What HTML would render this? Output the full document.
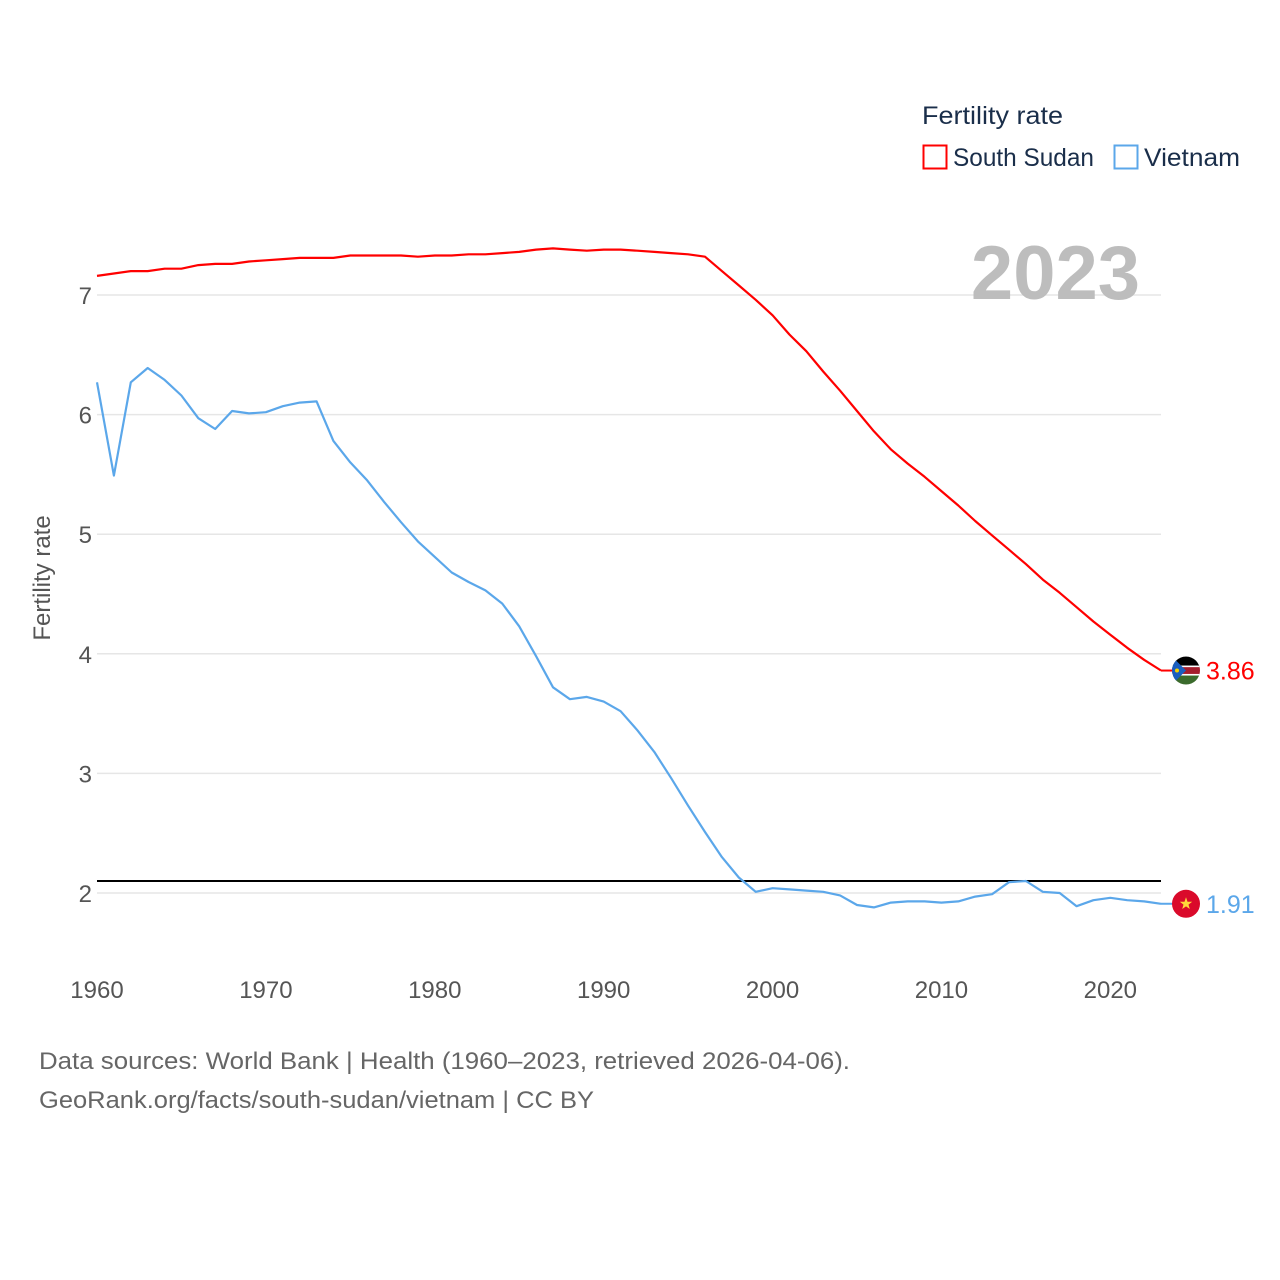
<!DOCTYPE html>
<html><head><meta charset="utf-8">
<style>
html,body{margin:0;padding:0;background:#fff;}
svg{display:block;font-family:"Liberation Sans",sans-serif;}
</style></head>
<body>
<svg id="chart" width="1280" height="1280" viewBox="0 0 1280 1280" xmlns="http://www.w3.org/2000/svg">
<g id="grid"></g>
<g id="yticks"></g>
<g id="xticks"></g>
<text transform="translate(50,578) rotate(-90)" text-anchor="middle" font-size="24" fill="#555">Fertility rate</text>
<text x="1140" y="299" text-anchor="end" font-size="76" font-weight="bold" fill="#bdbdbd">2023</text>
<line id="refline" stroke="#000" stroke-width="2"/>
<g id="series"></g>
<g>
<text x="922" y="124" font-size="25" fill="#1a2e4a" textLength="141" lengthAdjust="spacingAndGlyphs">Fertility rate</text>
<g>
<rect x="923.5" y="145.5" width="23" height="23" fill="none" stroke="#ff0000" stroke-width="2"/>
<text x="953" y="166" font-size="25" fill="#1a2e4a" textLength="141" lengthAdjust="spacingAndGlyphs">South Sudan</text></g>
<g>
<rect x="1114.5" y="145.5" width="23" height="23" fill="none" stroke="#5ba7ea" stroke-width="2"/>
<text x="1144" y="166" font-size="25" fill="#1a2e4a" textLength="96" lengthAdjust="spacingAndGlyphs">Vietnam</text></g>
</g>
<g id="ends"></g>
<text x="39" y="1069" font-size="24" fill="#666" textLength="811" lengthAdjust="spacingAndGlyphs">Data sources: World Bank | Health (1960–2023, retrieved 2026-04-06).</text>
<text x="39" y="1108" font-size="24" fill="#666" textLength="555" lengthAdjust="spacingAndGlyphs">GeoRank.org/facts/south-sudan/vietnam | CC BY</text>
</svg>
<script>
const years = [];
for (let y = 1960; y <= 2023; y++) years.push(y);
const southSudan = [7.16,7.18,7.20,7.20,7.22,7.22,7.25,7.26,7.26,7.28,7.29,7.30,7.31,7.31,7.31,7.33,7.33,7.33,7.33,7.32,7.33,7.33,7.34,7.34,7.35,7.36,7.38,7.39,7.38,7.37,7.38,7.38,7.37,7.36,7.35,7.34,7.32,7.20,7.08,6.96,6.83,6.67,6.53,6.36,6.20,6.03,5.86,5.71,5.59,5.48,5.36,5.24,5.11,4.99,4.87,4.75,4.62,4.51,4.39,4.27,4.16,4.05,3.95,3.86];
const vietnam = [6.27,5.49,6.27,6.39,6.29,6.16,5.97,5.88,6.03,6.01,6.02,6.07,6.10,6.11,5.78,5.60,5.45,5.27,5.10,4.94,4.81,4.68,4.60,4.53,4.42,4.23,3.98,3.72,3.62,3.64,3.60,3.52,3.36,3.18,2.96,2.73,2.51,2.30,2.13,2.01,2.04,2.03,2.02,2.01,1.98,1.90,1.88,1.92,1.93,1.93,1.92,1.93,1.97,1.99,2.09,2.10,2.01,2.00,1.89,1.94,1.96,1.94,1.93,1.91];
const yTicks = [2,3,4,5,6,7];
const xTicks = [1960,1970,1980,1990,2000,2010,2020];
const replacement = [2.1];
const NS='http://www.w3.org/2000/svg';
const X = yr => 97 + (yr-1960)*(1161-97)/63;
const Y = v => 295 - (v-7)*119.6;
function mk(tag, attrs, parent){const e=document.createElementNS(NS,tag);for(const k in attrs)e.setAttribute(k,attrs[k]);parent.appendChild(e);return e;}
const grid=document.getElementById('grid'), yt=document.getElementById('yticks'), xt=document.getElementById('xticks');
yTicks.forEach(t=>{
  const l=mk('line',{x1:97,x2:1161,y1:Y(t),y2:Y(t),stroke:'#e6e6e6','stroke-width':1.5},grid);
  
  
  const tx=mk('text',{x:92,y:Y(t)+9,'text-anchor':'end','font-size':24,fill:'#555'},yt);
  
  
  tx.textContent=t;
});
xTicks.forEach(t=>{
  const tx=mk('text',{x:X(t),y:998,'text-anchor':'middle','font-size':24,fill:'#555'},xt);
  
  
  tx.textContent=t;
});
const rl=document.getElementById('refline');
rl.setAttribute('x1',97);rl.setAttribute('x2',1161);rl.setAttribute('y1',Y(replacement[0]));rl.setAttribute('y2',Y(replacement[0]));
const ser=document.getElementById('series');
function line(vals,color,name){
  const d=vals.map((v,i)=>(i?'L':'M')+X(years[i]).toFixed(1)+' '+Y(v).toFixed(1)).join(' ');
  const p=mk('path',{d:d,fill:'none',stroke:color,'stroke-width':2.2,'stroke-linejoin':'round'},ser);
  
  
}
line(southSudan,'#ff0000','line-south-sudan');
line(vietnam,'#5ba7ea','line-vietnam');
const ends=document.getElementById('ends');
function endLabel(vals,color,name,flag){
  const v=vals[vals.length-1], x=X(years[years.length-1]), y=Y(v);
  const g=mk('g',{},ends);
  
  
  mk('line',{x1:x,x2:x+12,y1:y,y2:y,stroke:color,'stroke-width':2},g);
  flag(g,x+25,y);
  const t=mk('text',{x:x+45,y:y+9,'font-size':25,fill:color},g);
  t.textContent=v.toFixed(2);
}
endLabel(southSudan,'#ff0000','end-label-south-sudan',(g,cx,cy)=>{
  const cp=mk('clipPath',{id:'ssc'},g);mk('circle',{cx:cx,cy:cy,r:14},cp);
  const f=mk('g',{'clip-path':'url(#ssc)'},g);
  
  
  mk('rect',{x:cx-14,y:cy-14,width:28,height:10,fill:'#000'},f);
  mk('rect',{x:cx-14,y:cy-4,width:28,height:8,fill:'#a51d2d'},f);
  mk('rect',{x:cx-14,y:cy-5,width:28,height:1.6,fill:'#fff'},f);
  mk('rect',{x:cx-14,y:cy+3.4,width:28,height:1.6,fill:'#fff'},f);
  mk('rect',{x:cx-14,y:cy+5,width:28,height:9,fill:'#3b6b2c'},f);
  mk('polygon',{points:`${cx-14},${cy-14} ${cx},${cy} ${cx-14},${cy+14}`,fill:'#1b5fbf'},f);
  mk('circle',{cx:cx-9,cy:cy,r:2,fill:'#f5d300'},f);
});
endLabel(vietnam,'#5ba7ea','end-label-vietnam',(g,cx,cy)=>{
  const f=mk('g',{},g);
  
  
  mk('circle',{cx:cx,cy:cy,r:14,fill:'#da0a2b'},f);
  const pts=[];for(let i=0;i<10;i++){const r=i%2?2.6:6.5,a=-Math.PI/2+i*Math.PI/5;pts.push((cx+r*Math.cos(a)).toFixed(1)+','+(cy+r*Math.sin(a)).toFixed(1));}
  mk('polygon',{points:pts.join(' '),fill:'#ffd83a'},f);
});
</script>
</body></html>
